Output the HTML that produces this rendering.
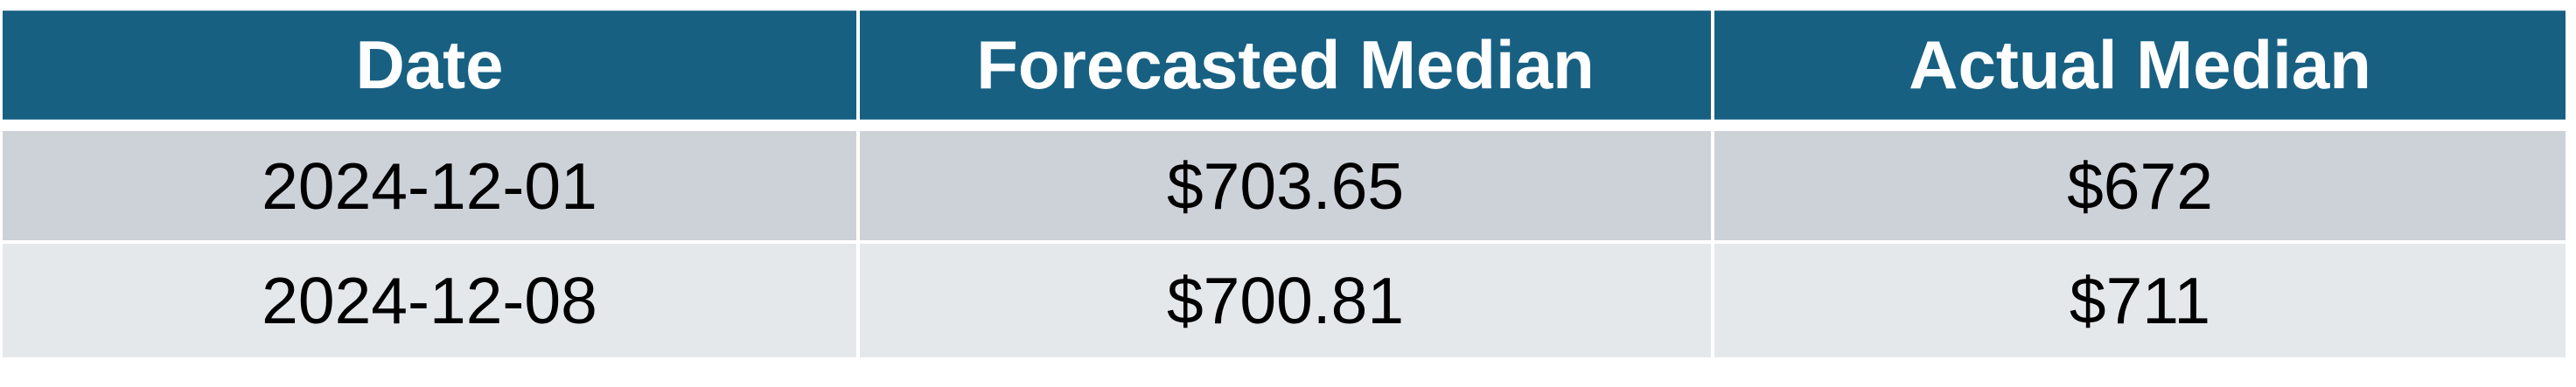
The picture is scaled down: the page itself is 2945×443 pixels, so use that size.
<!DOCTYPE html>
<html>
<head>
<meta charset="utf-8">
<style>
  html, body { margin:0; padding:0; background:#ffffff; }
  body { width:2945px; height:443px; position:relative; overflow:hidden; font-family:"Liberation Sans", sans-serif; }
  .cell { position:absolute; display:flex; align-items:center; justify-content:center; box-sizing:border-box; white-space:nowrap; }
  .hd { top:12px; height:125px; background:#186082; color:#ffffff; font-weight:bold; font-size:78px; border-top:1px solid #3f7fa0; border-bottom:1px solid #3f7fa0; }
  .r1 { top:150px; height:125px; background:#cdd1d8; color:#000; font-size:75px; }
  .r2 { top:279px; height:130px; background:#e5e8eb; color:#000; font-size:75px; }
  .c1 { left:3px; width:976px; }
  .c2 { left:983px; width:973px; }
  .c3 { left:1960px; width:973px; }
</style>
</head>
<body>
  <div class="cell hd c1">Date</div>
  <div class="cell hd c2">Forecasted Median</div>
  <div class="cell hd c3">Actual Median</div>

  <div class="cell r1 c1">2024-12-01</div>
  <div class="cell r1 c2">$703.65</div>
  <div class="cell r1 c3">$672</div>

  <div class="cell r2 c1">2024-12-08</div>
  <div class="cell r2 c2">$700.81</div>
  <div class="cell r2 c3">$711</div>
</body>
</html>
